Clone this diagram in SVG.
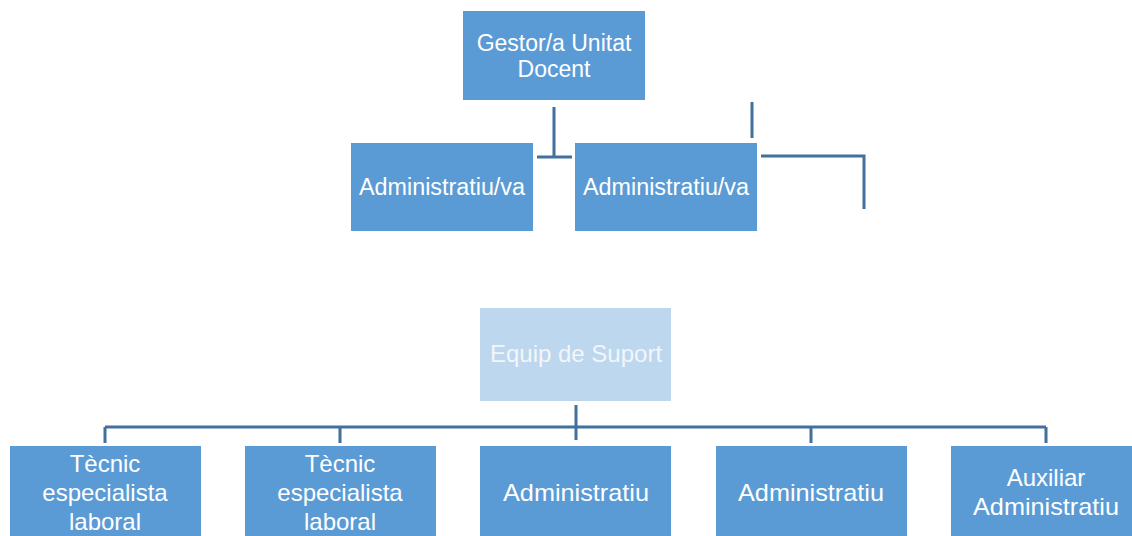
<svg xmlns="http://www.w3.org/2000/svg" width="1132" height="536" viewBox="0 0 1132 536">
<style>
.box{fill:#5B9BD5}
.light{fill:#BDD7EE}
.t{font-family:"Liberation Sans",Arial,sans-serif;fill:#FFFFFF;text-anchor:middle}
.top{font-size:23px}
.bot{font-size:24px}
.pale{fill:#F2F6FA}
.c{stroke:#41719C;stroke-width:3;fill:none}
</style>
<rect width="1132" height="536" fill="#FFFFFF"/>
<g id="connectors">
<path class="c" d="M554 107V157M537 157H572"/>
<path class="c" d="M752 102V138"/>
<path class="c" d="M761 156H864V209"/>
<path class="c" d="M576 405V440"/>
<path class="c" d="M105 427H1046M105 427V443M340 427V443M811 427V443M1046 427V443"/>
</g>
<g id="gestor">
<rect class="box" x="463" y="11" width="182" height="89"/>
<text class="t top" x="554" y="51">Gestor/a Unitat</text>
<text class="t top" x="554" y="77">Docent</text>
</g>
<g id="admin1">
<rect class="box" x="351" y="143" width="182" height="88"/>
<text class="t top" x="442" y="195" textLength="166" lengthAdjust="spacingAndGlyphs">Administratiu/va</text>
</g>
<g id="admin2">
<rect class="box" x="575" y="143" width="182" height="88"/>
<text class="t top" x="666" y="195" textLength="166" lengthAdjust="spacingAndGlyphs">Administratiu/va</text>
</g>
<g id="equip">
<rect class="light" x="480" y="308" width="191" height="93"/>
<text class="t bot pale" x="576" y="362">Equip de Suport</text>
</g>
<g id="tecnic1">
<rect class="box" x="10" y="446" width="191" height="95"/>
<text class="t bot" x="105" y="472">Tècnic</text>
<text class="t bot" x="105" y="501">especialista</text>
<text class="t bot" x="105" y="530">laboral</text>
</g>
<g id="tecnic2">
<rect class="box" x="245" y="446" width="191" height="95"/>
<text class="t bot" x="340" y="472">Tècnic</text>
<text class="t bot" x="340" y="501">especialista</text>
<text class="t bot" x="340" y="530">laboral</text>
</g>
<g id="administratiu1">
<rect class="box" x="480" y="446" width="191" height="95"/>
<text class="t bot" x="576" y="501" textLength="146" lengthAdjust="spacingAndGlyphs">Administratiu</text>
</g>
<g id="administratiu2">
<rect class="box" x="716" y="446" width="191" height="95"/>
<text class="t bot" x="811" y="501" textLength="146" lengthAdjust="spacingAndGlyphs">Administratiu</text>
</g>
<g id="auxiliar">
<rect class="box" x="951" y="446" width="191" height="95"/>
<text class="t bot" x="1046" y="486">Auxiliar</text>
<text class="t bot" x="1046" y="515" textLength="146" lengthAdjust="spacingAndGlyphs">Administratiu</text>
</g>
</svg>
